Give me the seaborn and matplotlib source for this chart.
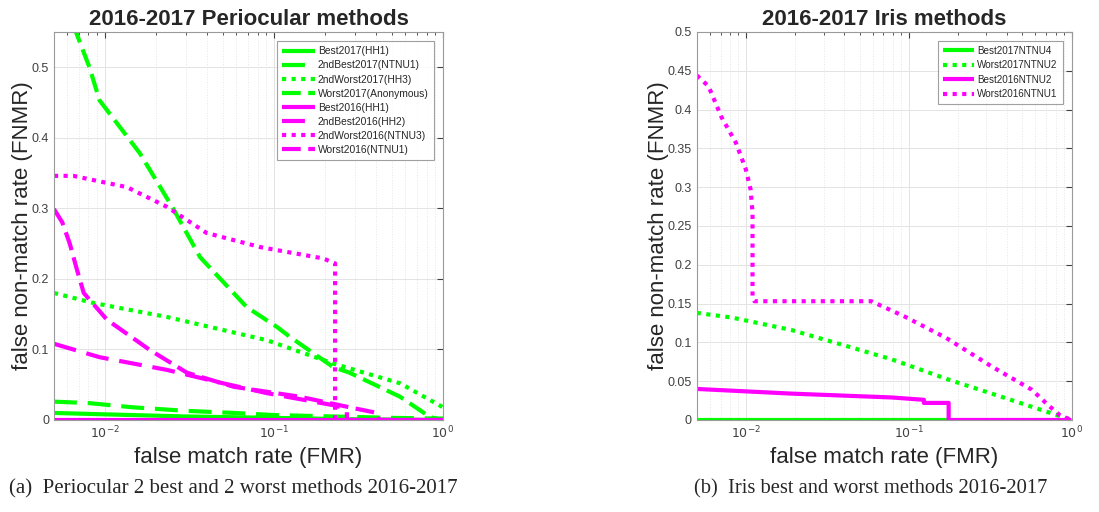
import numpy as np
import pandas as pd
import matplotlib
matplotlib.use("Agg")
import matplotlib.pyplot as plt
import seaborn as sns

sns.set_style("white")
plt.rcParams['font.family'] = ['Liberation Sans', 'DejaVu Sans']

GREEN = '#00ff00'
MAGENTA = '#ff00ff'

# ---------------- Periocular (left) ----------------
peri_labels = ["Best2017(HH1)", "2ndBest2017(NTNU1)", "2ndWorst2017(HH3)", "Worst2017(Anonymous)",
               "Best2016(HH1)", "2ndBest2016(HH2)", "2ndWorst2016(NTNU3)", "Worst2016(NTNU1)"]

p_best17_x = [0.005, 0.01, 0.03, 0.1, 0.3, 1.0]
p_best17_y = [0.010, 0.008, 0.005, 0.003, 0.001, 0.0]

p_2best17_x = [0.005, 0.008, 0.0146, 0.03, 0.058, 0.1, 0.224, 0.5, 1.0]
p_2best17_y = [0.026, 0.024, 0.018, 0.013, 0.010, 0.007, 0.005, 0.003, 0.002]

p_2worst17_x = [0.005, 0.0085, 0.0233, 0.091, 0.224, 0.557, 1.0]
p_2worst17_y = [0.18, 0.166, 0.146, 0.113, 0.08, 0.052, 0.018]

p_worst17_x = [0.0065, 0.0081, 0.0093, 0.0161, 0.0253, 0.0365, 0.069, 0.104, 0.124, 0.224, 0.28, 0.557, 0.84, 1.0]
p_worst17_y = [0.56, 0.5, 0.453, 0.378, 0.30, 0.231, 0.16, 0.132, 0.118, 0.075, 0.067, 0.033, 0.004, 0.0]

p_best16_x = [0.005, 1.0]
p_best16_y = [0.0, 0.0]

p_2best16_x = [0.005, 0.0093, 0.0233, 0.046, 0.091, 0.224, 0.27, 0.27, 0.5]
p_2best16_y = [0.108, 0.089, 0.071, 0.054, 0.038, 0.021, 0.016, 0.0, 0.0]

p_2worst16_x = [0.005, 0.0065, 0.0135, 0.0233, 0.040, 0.083, 0.195, 0.23, 0.23, 0.4]
p_2worst16_y = [0.346, 0.346, 0.33, 0.302, 0.265, 0.245, 0.229, 0.222, 0.0, 0.0]

p_worst16_x = [0.005, 0.0056, 0.0062, 0.0068, 0.0075, 0.0103, 0.0185, 0.0306, 0.058, 0.142, 0.28, 0.407, 0.42, 1.0]
p_worst16_y = [0.299, 0.28, 0.25, 0.215, 0.18, 0.142, 0.099, 0.067, 0.047, 0.033, 0.018, 0.01, 0.0, 0.0]

# ---------------- Iris (right) ----------------
iris_labels = ["Best2017NTNU4", "Worst2017NTNU2", "Best2016NTNU2", "Worst2016NTNU1"]

i_best17_x = [0.005, 0.172]
i_best17_y = [0.0, 0.0]

i_worst17_x = [0.005, 0.0082, 0.019, 0.039, 0.079, 0.176, 0.37, 0.72, 1.0]
i_worst17_y = [0.138, 0.132, 0.116, 0.097, 0.078, 0.052, 0.030, 0.010, 0.0]

i_best16_x = [0.005, 0.019, 0.079, 0.124, 0.124, 0.176, 0.176, 1.0]
i_best16_y = [0.040, 0.034, 0.029, 0.026, 0.022, 0.022, 0.0, 0.0]

i_worst16_x = [0.005, 0.0059, 0.0071, 0.0087, 0.010, 0.0107, 0.0110, 0.0110, 0.0113, 0.059, 0.095, 0.169, 0.323, 0.57, 0.72, 0.85, 1.0]
i_worst16_y = [0.444, 0.43, 0.39, 0.357, 0.323, 0.297, 0.267, 0.157, 0.153, 0.153, 0.133, 0.106, 0.069, 0.039, 0.019, 0.006, 0.0]

SOLID = None
DASH_SHORT = (5.5, 2.6)
DOT = (1.0, 1.3)
DASH = (4.5, 1.8)

peri_series = [
    (p_best17_x, p_best17_y, GREEN, SOLID),
    (p_2best17_x, p_2best17_y, GREEN, DASH_SHORT),
    (p_2worst17_x, p_2worst17_y, GREEN, DOT),
    (p_worst17_x, p_worst17_y, GREEN, DASH),
    (p_best16_x, p_best16_y, MAGENTA, SOLID),
    (p_2best16_x, p_2best16_y, MAGENTA, DASH_SHORT),
    (p_2worst16_x, p_2worst16_y, MAGENTA, DOT),
    (p_worst16_x, p_worst16_y, MAGENTA, DASH),
]
iris_series = [
    (i_best17_x, i_best17_y, GREEN, SOLID),
    (i_worst17_x, i_worst17_y, GREEN, DOT),
    (i_best16_x, i_best16_y, MAGENTA, SOLID),
    (i_worst16_x, i_worst16_y, MAGENTA, DOT),
]

fig = plt.figure(figsize=(10.99, 5.12), dpi=100)
ax1 = fig.add_axes([0.0491, 0.1797, 0.354, 0.758])
ax2 = fig.add_axes([0.634, 0.1797, 0.341, 0.758])

LW = 3.0


def draw(ax, series, labels):
    ax.set_xscale('log')
    for (xs, ys, col, dash), lab in zip(series, labels):
        df = pd.DataFrame({"FMR": xs, "FNMR": ys})
        sns.lineplot(data=df, x="FMR", y="FNMR", ax=ax, color=col, linewidth=LW,
                     estimator=None, sort=False, label=lab)
        line = ax.get_lines()[-1]
        if dash is not None:
            line.set_dashes(dash)
            line.set_dash_capstyle('butt')
        line.set_solid_capstyle('butt')


draw(ax1, peri_series, peri_labels)
draw(ax2, iris_series, iris_labels)

for ax, ymax, yt, title in [
    (ax1, 0.55, [0, 0.1, 0.2, 0.3, 0.4, 0.5], "2016-2017 Periocular methods"),
    (ax2, 0.5, [0, 0.05, 0.1, 0.15, 0.2, 0.25, 0.3, 0.35, 0.4, 0.45, 0.5], "2016-2017 Iris methods"),
]:
    ax.set_xlim(0.005, 1.0)
    ax.set_ylim(0, ymax)
    ax.set_yticks(yt)
    ax.set_yticklabels(['0' if v == 0 else f"{v:g}" for v in yt])
    ax.set_xticks([0.01, 0.1, 1.0])
    ax.set_xticklabels([r'$10^{-2}$', r'$10^{-1}$', r'$10^{0}$'])
    ax.minorticks_on()
    ax.yaxis.set_minor_locator(matplotlib.ticker.NullLocator())
    ax.tick_params(which='both', direction='in', top=True, right=True,
                   labelsize=9, colors='#404040', length=4)
    ax.tick_params(which='minor', length=2)
    ax.grid(which='major', color='#e3e3e3', linewidth=0.7)
    ax.grid(which='minor', axis='x', color='#e6e6e6', linestyle=':', linewidth=0.7)
    ax.set_axisbelow(True)
    for s in ax.spines.values():
        s.set_color('#9a9a9a')
        s.set_linewidth(0.8)
    ax.set_xlabel("false match rate (FMR)", fontsize=16, color='#262626', labelpad=4)
    ax.set_ylabel("false non-match rate (FNMR)", fontsize=16, color='#262626', labelpad=-1)
    ax.set_title(title, fontsize=16, fontweight='bold', pad=5)

leg1 = ax1.legend(loc='upper right', fontsize=7.4, handlelength=3.2, frameon=True,
                  fancybox=False, edgecolor='#888888', borderpad=0.5, labelspacing=0.4,
                  handletextpad=0.3, borderaxespad=0.9)
leg1.get_frame().set_linewidth(0.8)
leg2 = ax2.legend(loc='upper right', fontsize=7.1, handlelength=3.2, frameon=True,
                  fancybox=False, edgecolor='#888888', borderpad=0.5, labelspacing=0.45,
                  handletextpad=0.3, borderaxespad=0.9)
leg2.get_frame().set_linewidth(0.8)

fig.text(0.212, 0.045, "(a)  Periocular 2 best and 2 worst methods 2016-2017",
         ha='center', va='center', fontsize=15, family='Liberation Serif')
fig.text(0.7925, 0.045, "(b)  Iris best and worst methods 2016-2017",
         ha='center', va='center', fontsize=14.8, family='Liberation Serif')

fig.savefig("out.png", dpi=100)
